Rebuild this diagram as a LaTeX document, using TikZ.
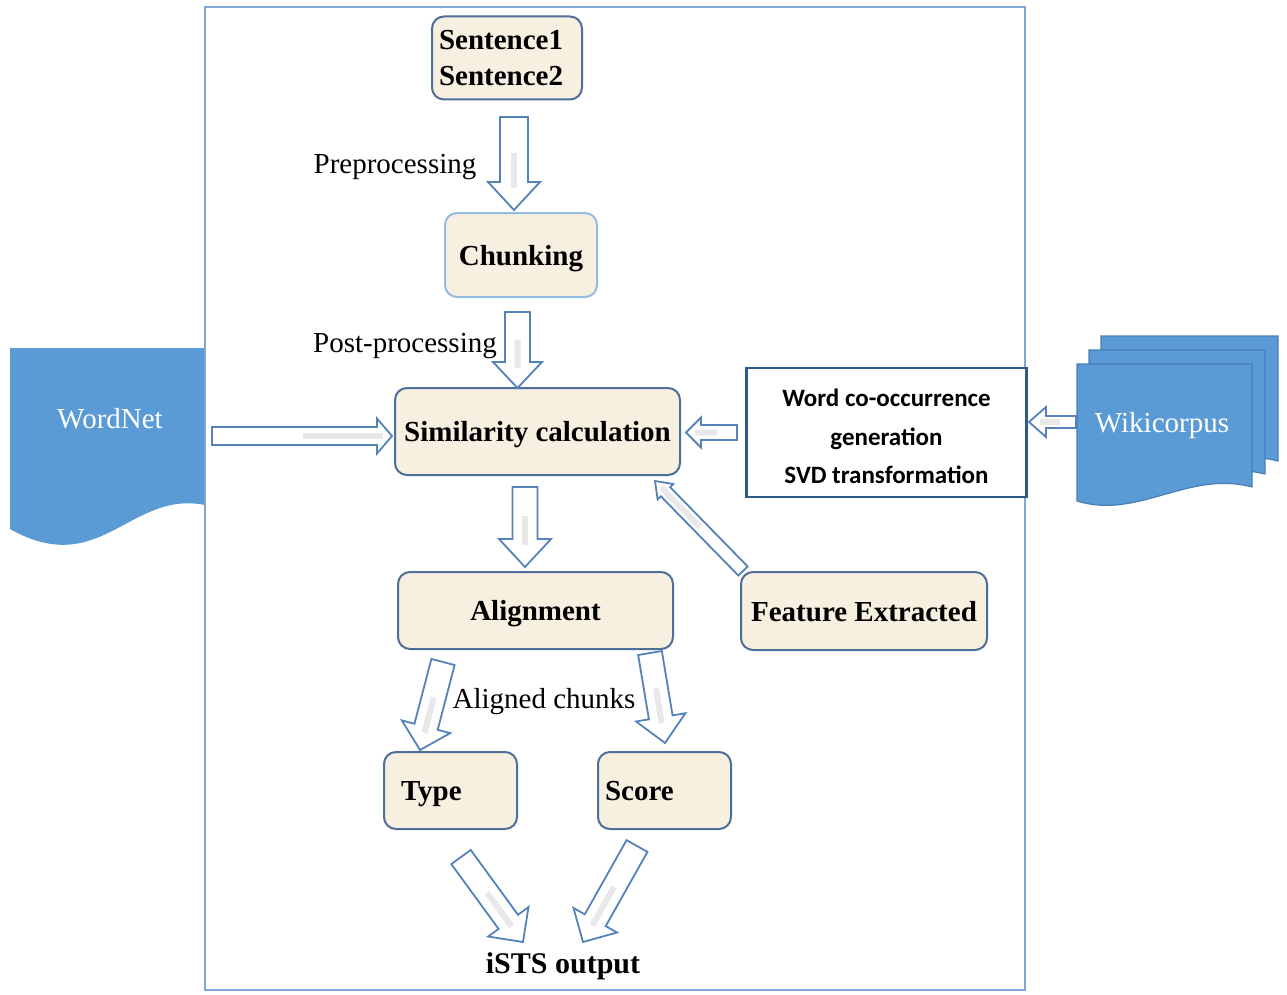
\documentclass[tikz,border=0pt]{standalone}
\usepackage{fontspec}
\setmainfont{Liberation Serif}
\newfontfamily\calibfont{Carlito}
\usetikzlibrary{calc}
\definecolor{frameblue}{HTML}{7FA7D6}
\definecolor{boxedge}{HTML}{4D6F99}
\definecolor{boxfill}{HTML}{F7EFE0}
\definecolor{arrowedge}{HTML}{5582B8}
\definecolor{docblue}{HTML}{5B9BD5}
\definecolor{docedge}{HTML}{4A7FB5}
\definecolor{wordedge}{HTML}{2E5A88}
\definecolor{lightedge}{HTML}{93BCE3}
\newcommand{\blockarr}[5]{%
  \coordinate (#1-#2-h) at ($(#2)!#5!(#1)$);
  \draw[barrowstyle] ($(#1)!#3!90:(#2)$) -- ($(#1-#2-h)!#3!90:(#2)$) -- ($(#1-#2-h)!#4!90:(#2)$) -- (#2)
    -- ($(#1-#2-h)!#4!-90:(#2)$) -- ($(#1-#2-h)!#3!-90:(#2)$) -- ($(#1)!#3!-90:(#2)$) -- cycle;
  \draw[highlight] ($(#1)!0.55!(#1-#2-h)$) -- ($(#1-#2-h)!6pt!(#2)$);
}
\newcommand{\lowline}[1]{\raisebox{-4pt}[\height][0pt]{#1}}
\begin{document}
\begin{tikzpicture}[x=1pt,y=-1pt,
  boxbase/.style={draw=boxedge, line width=2pt, fill=boxfill, rounded corners=12pt,
    font=\fontsize{29}{36}\selectfont\bfseries, inner sep=0pt},
  procbox/.style={boxbase, text height=20pt, text depth=0pt},
  barrowstyle/.style={draw=arrowedge, line width=1.8pt, fill=white, line join=miter},
  highlight/.style={line width=6pt, draw=gray!18},
  lbl/.style={font=\fontsize{29}{34}\selectfont, inner sep=0pt},
  docsheet/.style={fill=docblue, draw=docedge, line width=1.2pt}]
\fill[white] (0,0) rectangle (1287,995);
\useasboundingbox (0,0) rectangle (1287,995);

% WordNet document shape
\path[docsheet, draw=none] (10,348) -- (205,348) -- (205,505) .. controls (130,490) and (100,580) .. (10,529) -- cycle;
% Wikicorpus multi-document
\path[docsheet] (1101,336) -- (1278,336) -- (1278,461) .. controls (1215,445) and (1165,495) .. (1101,478) -- cycle;
\path[docsheet] (1089,350) -- (1265,350) -- (1265,474) .. controls (1200,458) and (1150,508) .. (1089,490) -- cycle;
\path[docsheet] (1077,364) -- (1252,364) -- (1252,487) .. controls (1188,470) and (1138,520) .. (1077,501) -- cycle;

% frame
\draw[frameblue, line width=2pt] (205,7) rectangle (1025,990);

% nodes
\node[boxbase, text width=136pt, inner xsep=7pt, minimum height=83pt, align=left] (sent) at (507,58) {\raisebox{-3pt}{Sentence1}\\\raisebox{-3pt}{Sentence2}};
\node[procbox, draw=lightedge, minimum width=152pt, minimum height=84pt] (chunk) at (521,255) {Chunking};
\node[procbox, minimum width=285pt, minimum height=87pt] (sim) at (537.5,431.5) {Similarity calculation};
\node[procbox, minimum width=275pt, minimum height=77pt] (align) at (535.5,610.5) {Alignment};
\node[procbox, minimum width=246pt, minimum height=78pt] (feat) at (864,611) {Feature Extracted};
\node[procbox, text width=99pt, inner xsep=17pt, align=left, minimum height=77pt] (type) at (450.5,790.5) {Type};
\node[procbox, text width=119pt, inner xsep=7pt, align=left, minimum height=77pt] (score) at (664.5,790.5) {Score};
\node[font=\fontsize{30}{34}\selectfont\bfseries, inner sep=0pt] (ists) at (563,966) {iSTS output};
\node[draw=wordedge, line width=2.5pt, fill=white, minimum width=280pt, minimum height=129pt,
  align=center, font=\calibfont\bfseries\fontsize{25}{38.5}\selectfont, inner sep=0pt] (word) at (886.5,432.5)
  {\lowline{Word co-occurrence}\\\lowline{generation}\\\lowline{SVD transformation}};
\node[lbl, text=white] (wn) at (110,419) {WordNet};
\node[lbl, text=white] (wiki) at (1162,426) {Wikicorpus};
\node[lbl] (pre) at (395,167) {Preprocessing};
\node[lbl] (post) at (405,346) {Post-processing};
\node[lbl] (alc) at (544,702) {Aligned chunks};

% connector end points
\coordinate (a1s) at (514,117);   \coordinate (a1e) at (514,210);
\coordinate (a2s) at (517.5,312); \coordinate (a2e) at (517.5,388);
\coordinate (a3s) at (212,436);   \coordinate (a3e) at (392,436);
\coordinate (a4s) at (737,432.5); \coordinate (a4e) at (686,432.5);
\coordinate (a5s) at (1076,422);  \coordinate (a5e) at (1029,422);
\coordinate (a6s) at (525,487);   \coordinate (a6e) at (525,567);
\coordinate (a7s) at (743,571);   \coordinate (a7e) at (655,481);
\coordinate (a8s) at (443,662);   \coordinate (a8e) at (420,750);
\coordinate (a9s) at (650,653);   \coordinate (a9e) at (665,743);
\coordinate (b1s) at (461,857);   \coordinate (b1e) at (523,942);
\coordinate (b2s) at (637,846);   \coordinate (b2e) at (583,942);

\blockarr{a1s}{a1e}{14pt}{26pt}{28pt}
\blockarr{a2s}{a2e}{12.5pt}{24.5pt}{26pt}
\blockarr{a3s}{a3e}{9pt}{17.5pt}{15pt}
\blockarr{a4s}{a4e}{7.5pt}{15pt}{15pt}
\blockarr{a5s}{a5e}{6pt}{15pt}{17pt}
\blockarr{a6s}{a6e}{12.5pt}{26pt}{28pt}
\blockarr{a7s}{a7e}{6.5pt}{11pt}{15pt}
\blockarr{a8s}{a8e}{12pt}{25pt}{24pt}
\blockarr{a9s}{a9e}{12pt}{25pt}{26pt}
\blockarr{b1s}{b1e}{12pt}{25pt}{25pt}
\blockarr{b2s}{b2e}{12pt}{25pt}{25pt}
\end{tikzpicture}
\end{document}
